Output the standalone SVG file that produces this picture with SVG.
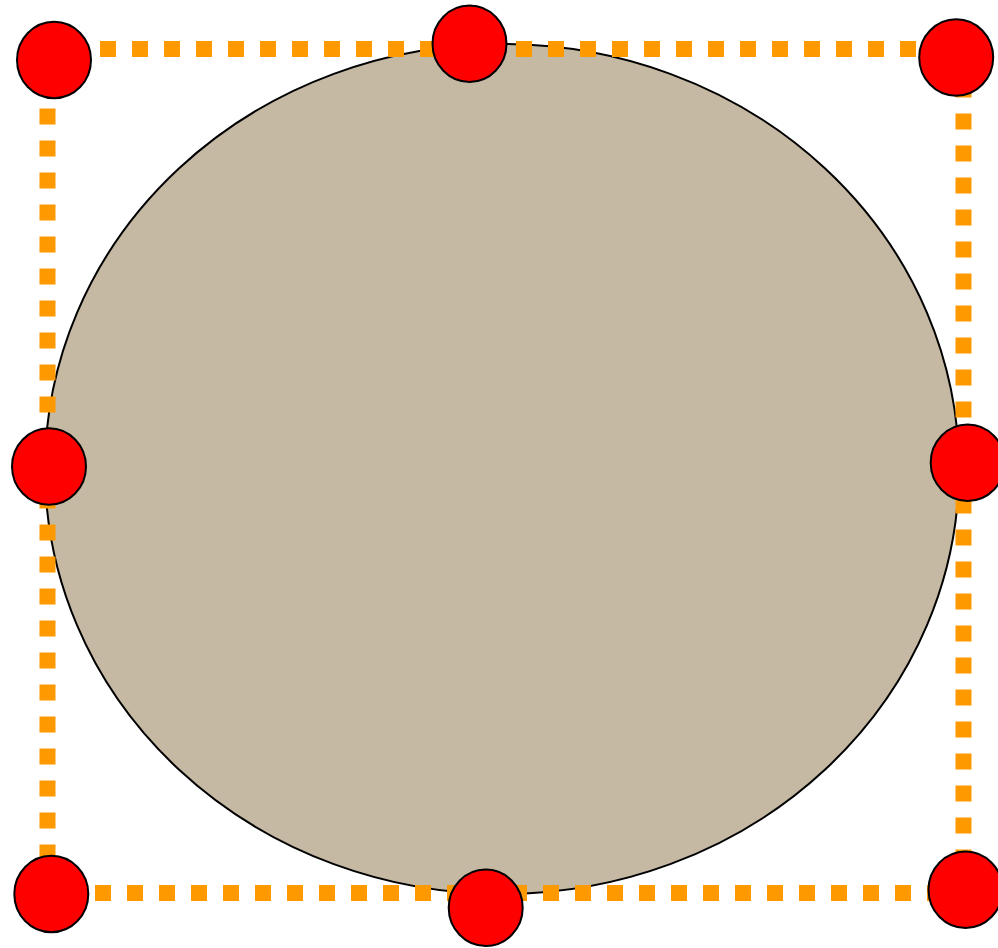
<svg xmlns="http://www.w3.org/2000/svg" width="998" height="948" viewBox="0 0 998 948">
<style>
.body{fill:#c6b9a3;stroke:#000;stroke-width:2}
.frame{fill:none;stroke:#ff9900;stroke-width:16;stroke-dasharray:16 16;stroke-dashoffset:11.5}
.handle{fill:#ff0000;stroke:#000;stroke-width:2}
</style>
<rect width="998" height="948" fill="#fff"/>
<g id="shape"><ellipse class="body" cx="502" cy="469" rx="457" ry="425"/></g>
<g id="frame"><rect class="frame" x="47.5" y="49" width="916" height="844"/></g>
<g id="handles">
<g id="h-tl"><ellipse class="handle" cx="54" cy="60" rx="37" ry="38.2"/></g>
<g id="h-tm"><ellipse class="handle" cx="469.5" cy="43.7" rx="37" ry="38.2"/></g>
<g id="h-tr"><ellipse class="handle" cx="956.2" cy="57.5" rx="37" ry="38.2"/></g>
<g id="h-ml"><ellipse class="handle" cx="49" cy="466.5" rx="37" ry="38.2"/></g>
<g id="h-mr"><ellipse class="handle" cx="967.7" cy="462.8" rx="37" ry="38.2"/></g>
<g id="h-bl"><ellipse class="handle" cx="51.3" cy="894" rx="37" ry="38.2"/></g>
<g id="h-bm"><ellipse class="handle" cx="485.7" cy="907.8" rx="37" ry="38.2"/></g>
<g id="h-br"><ellipse class="handle" cx="965.5" cy="889.8" rx="37" ry="38.2"/></g>
</g>
</svg>
